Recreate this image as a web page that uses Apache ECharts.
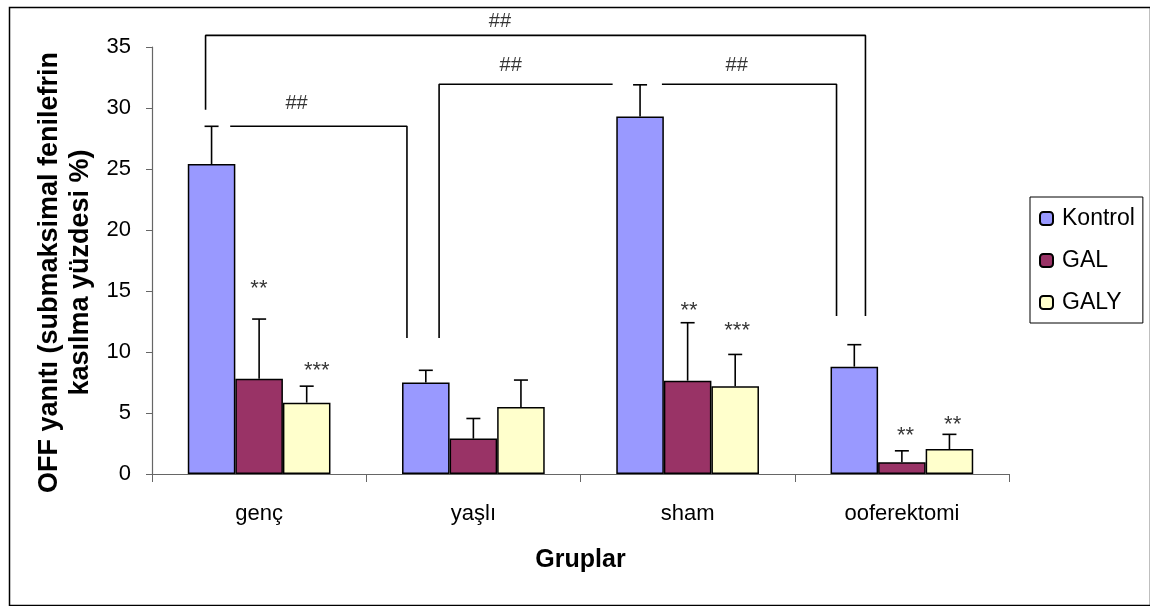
<!DOCTYPE html>
<html><head><meta charset="utf-8">
<script src="https://cdn.jsdelivr.net/npm/echarts@6/dist/echarts.min.js"></script>
<style>html,body{margin:0;padding:0;background:#fff}#c{width:1150px;height:606px}</style>
</head><body><div id="c"></div>
<script>
// ---- data ----
const categories = ['genç', 'yaşlı', 'sham', 'ooferektomi'];
const seriesNames = ['Kontrol', 'GAL', 'GALY'];
const kontrol = [25.4, 7.5, 29.3, 8.8];
const gal = [7.8, 2.9, 7.65, 0.96];
const galy = [5.85, 5.5, 7.2, 2.05];
const kontrolErrTop = [28.5, 8.5, 31.9, 10.6];
const galErrTop = [12.7, 4.55, 12.4, 1.9];
const galyErrTop = [7.2, 7.7, 9.8, 3.25];
const yTicks = [0, 5, 10, 15, 20, 25, 30, 35];
// significance brackets, in [category position, value]
const bracket1 = [[0.25, 29.85], [0.25, 35.95], [3.33, 35.95], [3.33, 12.95]];
const bracket2a = [[1.34, 11.15], [1.34, 31.95], [2.15, 31.95]];
const bracket2b = [[2.38, 31.95], [3.195, 31.95], [3.195, 12.95]];
const bracket3 = [[0.365, 28.5], [1.19, 28.5], [1.19, 11.15]];
const hashMarks = [[1.624, 37.1, '##'], [1.674, 33.5, '##'], [2.729, 33.5, '##'], [0.675, 30.4, '##']];
const starMarks = [[0.499, 15.2, '**'], [0.769, 8.45, '***'], [2.507, 13.35, '**'], [2.731, 11.7, '***'], [3.517, 3.15, '**'], [3.737, 4.0, '**']];

const colors = ['#9999FF', '#993366', '#FFFFCC'];
const values = [kontrol, gal, galy];
const errTops = [kontrolErrTop, galErrTop, galyErrTop];
const catGap = 0.334;
const font = 'Liberation Sans, Arial, sans-serif';

const chart = echarts.init(document.getElementById('c'), null, {renderer: 'canvas'});

const series = [];
seriesNames.forEach((name, i) => {
  series.push({
    name: name, type: 'bar', xAxisIndex: 0, yAxisIndex: 0,
    data: values[i], barGap: '0%', barCategoryGap: (catGap * 100) + '%',
    itemStyle: {color: colors[i], borderColor: '#000', borderWidth: 1.5},
    emphasis: {disabled: true}, z: 2
  });
});
seriesNames.forEach((name, i) => {
  series.push({
    type: 'custom', xAxisIndex: 0, yAxisIndex: 0, z: 3, silent: true,
    data: categories.map((c, k) => [k, values[i][k], errTops[i][k]]),
    encode: {x: 0, y: [1, 2]},
    renderItem: function (params, api) {
      const cw = api.size([1, 0])[0];
      const bw = cw * (1 - catGap) / 3;
      const b = api.coord([api.value(0), api.value(1)]);
      const t = api.coord([api.value(0), api.value(2)]);
      const x = b[0] + (i - 1) * bw;
      const st = {stroke: '#000', lineWidth: 1.6};
      return {type: 'group', children: [
        {type: 'line', shape: {x1: x, y1: b[1], x2: x, y2: t[1]}, style: st},
        {type: 'line', shape: {x1: x - 7, y1: t[1], x2: x + 7, y2: t[1]}, style: st}
      ]};
    }
  });
});
[bracket1, bracket2a, bracket2b, bracket3].forEach(br => {
  series.push({
    type: 'line', xAxisIndex: 1, yAxisIndex: 0, data: br, symbol: 'none', clip: false,
    lineStyle: {color: '#000', width: 1.6}, silent: true, z: 4, animation: false
  });
});
series.push({
  type: 'scatter', xAxisIndex: 1, yAxisIndex: 0, clip: false, silent: true, z: 5,
  data: hashMarks, symbolSize: 1, itemStyle: {color: 'transparent'},
  label: {show: true, position: 'inside', formatter: p => p.data[2], color: '#000', fontSize: 20, fontFamily: font}
});
series.push({
  type: 'scatter', xAxisIndex: 1, yAxisIndex: 0, clip: false, silent: true, z: 5,
  data: starMarks, symbolSize: 1, itemStyle: {color: 'transparent'},
  label: {show: true, position: 'inside', formatter: p => p.data[2], color: '#000', fontSize: 22, fontFamily: font}
});

chart.setOption({
  animation: false,
  backgroundColor: '#fff',
  grid: {left: 152, right: 141, top: 47, bottom: 132, containLabel: false},
  legend: {
    data: seriesNames, orient: 'vertical', left: 1030, top: 197,
    itemWidth: 13, itemHeight: 13, itemGap: 19,
    borderColor: '#000', borderWidth: 1, padding: [10, 8, 9, 9],
    textStyle: {fontSize: 23, fontFamily: font, color: '#000', padding: [0, 0, 0, 4]},
    selectedMode: false
  },
  xAxis: [{
    type: 'category', data: categories,
    name: 'Gruplar', nameLocation: 'middle', nameGap: 74,
    nameTextStyle: {fontSize: 25, fontWeight: 'bold', fontFamily: font, color: '#000'},
    axisLine: {lineStyle: {color: '#666', width: 1.2}},
    axisTick: {show: true, length: 8, lineStyle: {color: '#666'}},
    axisLabel: {fontSize: 22, fontFamily: font, color: '#000', margin: 29}
  }, {
    type: 'value', min: 0, max: 4, show: false
  }],
  yAxis: [{
    type: 'value', min: 0, max: 35, interval: 5,
    name: 'OFF yanıtı (submaksimal fenilefrin\nkasılma yüzdesi %)',
    nameLocation: 'middle', nameGap: 53, nameRotate: 90,
    nameTextStyle: {fontSize: 27, fontWeight: 'bold', fontFamily: font, color: '#000', lineHeight: 31, padding: [0, 24, 0, 0]},
    axisLine: {show: true, lineStyle: {color: '#666', width: 1.2}},
    axisTick: {show: true, length: 6, lineStyle: {color: '#666'}},
    splitLine: {show: false},
    axisLabel: {fontSize: 22, fontFamily: font, color: '#000', margin: 21,
      formatter: v => yTicks.indexOf(v) >= 0 ? String(v) : ''}
  }],
  graphic: [{
    type: 'rect', left: 7, top: 5, silent: true,
    shape: {width: 1141, height: 598},
    style: {fill: 'none', stroke: '#000', lineWidth: 1.5}, z: -1
  }],
  series: series
});
</script></body></html>
